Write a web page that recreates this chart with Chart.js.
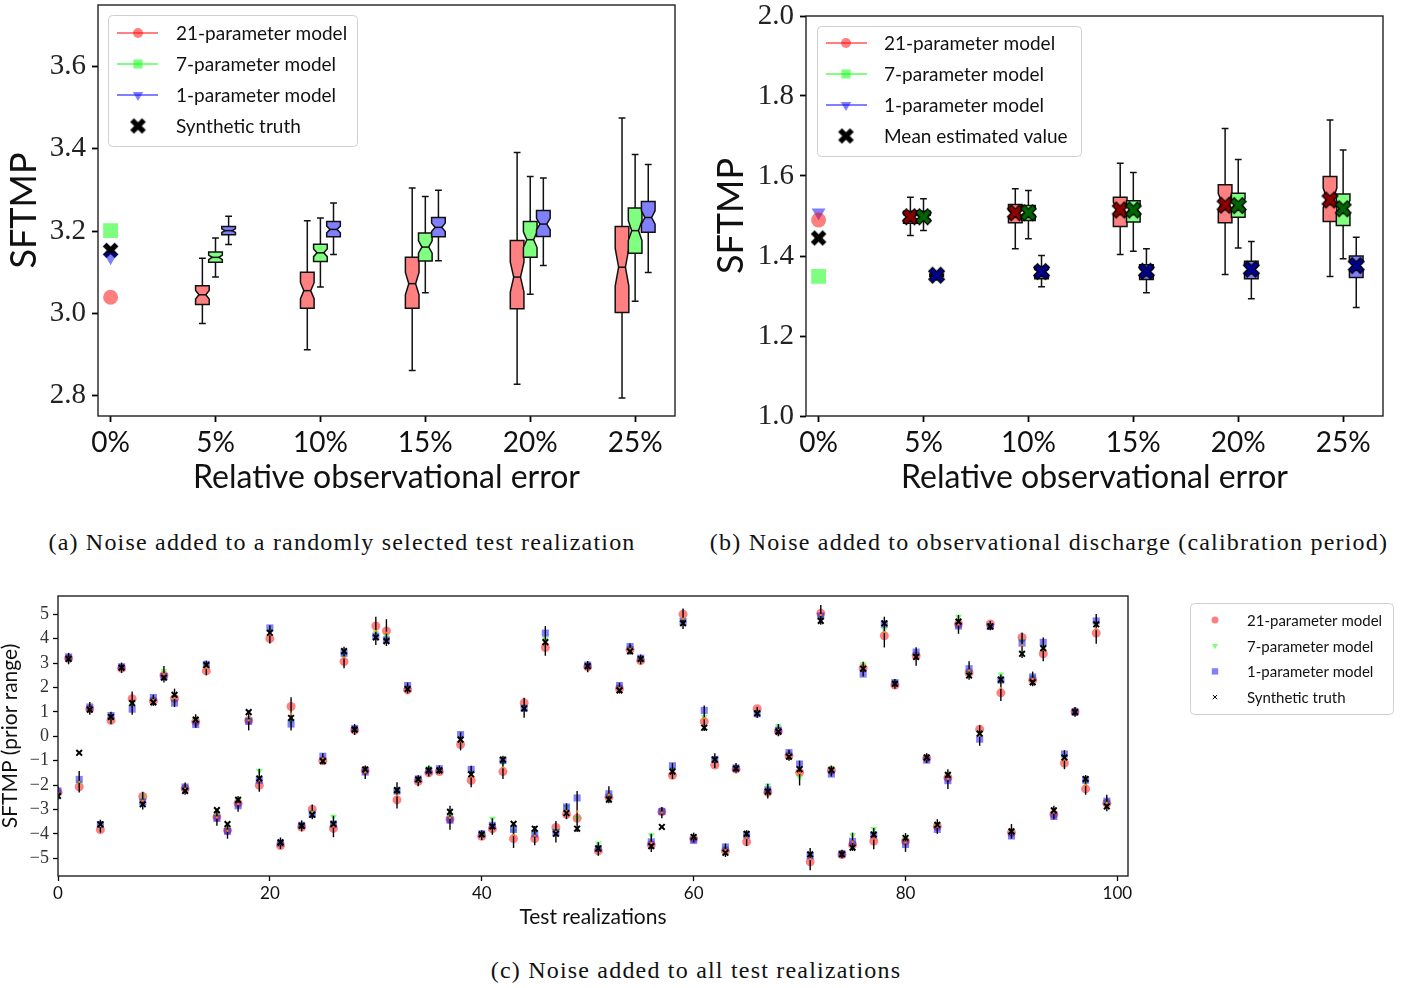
<!DOCTYPE html>
<html>
<head>
<meta charset="utf-8">
<script src="https://cdn.jsdelivr.net/npm/chart.js@4.4.1/dist/chart.umd.min.js"></script>
<style>
  body { margin: 0; background: #fff; width: 1408px; height: 988px; position: relative; overflow: hidden; }
  canvas { position: absolute; }
  .cap { position: absolute; font-family: 'Liberation Serif', 'DejaVu Serif', serif; font-size: 24px; letter-spacing: 1.2px; color: #111;
         white-space: nowrap; transform: translate(-50%, -50%); }
</style>
</head>
<body>
<canvas id="chartA" width="690" height="505" style="left:0;top:0"></canvas>
<canvas id="chartB" width="708" height="505" style="left:700px;top:0"></canvas>
<canvas id="chartC" width="1408" height="360" style="left:0;top:580px"></canvas>
<div class="cap" style="left:342px;top:542px">(a) Noise added to a randomly selected test realization</div>
<div class="cap" style="left:1049px;top:542px">(b) Noise added to observational discharge (calibration period)</div>
<div class="cap" style="left:696px;top:970px">(c) Noise added to all test realizations</div>

<script>
/* ---------- data ---------- */
const errorLevels = ['0%', '5%', '10%', '15%', '20%', '25%'];
const modelNames = ['21-parameter model', '7-parameter model', '1-parameter model'];

// (a) box stats for 5%..25%: [whisker low, q1, median, q3, whisker high]
const boxA21 = [[2.975, 3.021, 3.045, 3.067, 3.134], [2.911, 3.012, 3.055, 3.100, 3.225], [2.861, 3.012, 3.072, 3.136, 3.305], [2.827, 3.011, 3.088, 3.177, 3.391], [2.794, 3.002, 3.112, 3.211, 3.475]];
const boxA7 = [[3.088, 3.124, 3.136, 3.149, 3.183], [3.064, 3.126, 3.147, 3.168, 3.232], [3.050, 3.127, 3.161, 3.195, 3.284], [3.046, 3.136, 3.179, 3.223, 3.333], [3.029, 3.146, 3.201, 3.256, 3.386]];
const boxA1 = [[3.167, 3.191, 3.201, 3.211, 3.236], [3.143, 3.186, 3.204, 3.223, 3.268], [3.128, 3.186, 3.209, 3.233, 3.299], [3.116, 3.187, 3.217, 3.250, 3.329], [3.099, 3.197, 3.233, 3.272, 3.362]];
// (a) noise-free estimates (21, 7, 1) and the synthetic truth
const zeroA = [3.039, 3.201, 3.136];
const truthA = 3.153;
const yTicksA = [2.8, 3.0, 3.2, 3.4, 3.6];

// (b) box stats and mean estimates for 5%..25%
const boxB21 = [[1.451, 1.482, 1.497, 1.512, 1.547], [1.418, 1.483, 1.505, 1.529, 1.568], [1.404, 1.474, 1.518, 1.547, 1.632], [1.354, 1.483, 1.535, 1.578, 1.719], [1.349, 1.486, 1.545, 1.599, 1.740]];
const boxB7 = [[1.464, 1.487, 1.497, 1.512, 1.543], [1.443, 1.489, 1.510, 1.526, 1.564], [1.412, 1.485, 1.518, 1.538, 1.609], [1.420, 1.497, 1.530, 1.557, 1.641], [1.393, 1.476, 1.522, 1.555, 1.665]];
const boxB1 = [[1.346, 1.349, 1.352, 1.355, 1.358], [1.323, 1.343, 1.360, 1.374, 1.401], [1.308, 1.341, 1.360, 1.378, 1.418], [1.293, 1.343, 1.366, 1.387, 1.436], [1.271, 1.346, 1.377, 1.400, 1.447]];
const meanB21 = [1.498, 1.508, 1.515, 1.527, 1.540];
const meanB7 = [1.498, 1.508, 1.515, 1.526, 1.518];
const meanB1 = [1.352, 1.361, 1.362, 1.367, 1.376];
const zeroB = [1.490, 1.349, 1.509];
const meanZeroB = 1.445;
const yTicksB = [1.0, 1.2, 1.4, 1.6, 1.8, 2.0];

// (c) per test realization 0..99
const truthC = [-2.45, 3.17, -0.68, 1.09, -3.61, 0.79, 2.81, 1.36, -2.79, 1.39, 2.40, 1.70, -2.24, 0.68, 2.92, -3.03, -3.60, -2.61, 0.99, -1.73,
  4.24, -4.35, 0.75, -3.67, -3.22, -1.02, -3.60, 3.49, 0.27, -1.36, 4.05, 3.90, -2.21, 1.94, -1.77, -1.40, -1.40, -3.10, -0.14, -1.56,
  -4.02, -3.70, -0.96, -3.59, 1.14, -3.79, 3.86, -4.00, -3.15, -3.79, 2.87, -4.60, -2.60, 1.88, 3.48, 3.17, -4.51, -3.72, -1.45, 4.63,
  -4.13, 0.35, -0.96, -4.78, -1.32, -4.00, 0.94, -2.27, 0.19, -0.84, -1.35, -4.84, 4.73, -1.39, -4.84, -4.57, 2.77, -4.03, 4.63, 2.15,
  -4.17, 3.25, -0.87, -3.63, -1.58, 4.70, 2.49, 0.11, 4.50, 2.32, -3.90, 3.38, 2.21, 3.61, -3.04, -0.87, 0.99, -1.75, 4.59, -2.88];
const est21C = [-2.30, 3.20, -2.07, 1.12, -3.83, 0.65, 2.78, 1.54, -2.47, 1.45, 2.50, 1.55, -2.15, 0.60, 2.68, -3.30, -3.85, -2.75, 0.65, -2.01,
  4.00, -4.48, 1.22, -3.72, -2.99, -1.00, -3.78, 3.06, 0.25, -1.40, 4.52, 4.32, -2.61, 1.90, -1.85, -1.50, -1.45, -3.40, -0.34, -1.81,
  -4.10, -3.80, -1.45, -4.20, 1.37, -4.20, 3.64, -3.74, -3.20, -3.36, 2.85, -4.70, -2.50, 1.95, 3.55, 3.10, -4.45, -3.10, -1.60, 5.00,
  -4.20, 0.60, -1.18, -4.70, -1.35, -4.33, 1.13, -2.30, 0.20, -0.80, -1.48, -5.15, 5.04, -1.40, -4.85, -4.45, 2.80, -4.30, 4.12, 2.10,
  -4.30, 3.30, -0.90, -3.70, -1.70, 4.60, 2.60, 0.29, 4.60, 1.78, -3.95, 4.05, 2.30, 3.38, -3.20, -1.10, 1.00, -2.16, 4.23, -2.75];
const est7C = [-2.35, 3.22, -1.90, 1.15, -3.70, 0.75, 2.82, 1.30, -2.50, 1.50, 2.68, 1.60, -2.12, 0.65, 2.85, -3.20, -3.75, -2.65, 0.70, -1.43,
  4.30, -4.40, 0.60, -3.68, -3.10, -0.95, -3.30, 3.30, 0.30, -1.45, 4.25, 4.10, -2.30, 2.00, -1.80, -1.30, -1.38, -3.30, -0.10, -1.50,
  -4.05, -3.38, -1.10, -3.90, 1.20, -3.95, 4.00, -3.85, -2.90, -3.36, 2.90, -4.40, -2.45, 2.00, 3.60, 3.15, -4.06, -3.10, -1.35, 4.75,
  -4.15, 0.80, -1.00, -4.60, -1.30, -4.10, 0.95, -2.02, 0.42, -0.75, -1.68, -4.85, 4.85, -1.30, -4.80, -4.06, 2.95, -3.80, 4.39, 2.20,
  -4.20, 3.35, -0.85, -3.65, -1.60, 4.90, 2.65, 0.10, 4.55, 2.53, -3.90, 3.90, 2.43, 3.60, -3.15, -0.85, 1.05, -1.90, 4.60, -2.70];
const est1C = [-2.24, 3.25, -1.77, 1.20, -3.62, 0.85, 2.85, 1.11, -2.70, 1.59, 2.45, 1.36, -2.08, 0.48, 2.95, -3.37, -3.90, -2.85, 0.61, -1.80,
  4.44, -4.38, 0.50, -3.65, -3.20, -0.82, -3.60, 3.40, 0.32, -1.47, 4.10, 3.95, -2.25, 2.08, -1.75, -1.42, -1.33, -3.44, 0.07, -1.36,
  -4.00, -3.65, -1.00, -3.82, 1.15, -4.00, 4.23, -3.95, -2.90, -2.53, 2.92, -4.60, -2.36, 2.08, 3.68, 3.20, -4.33, -3.08, -1.21, 4.70,
  -4.27, 1.06, -0.95, -4.54, -1.30, -4.05, 0.92, -2.20, 0.25, -0.67, -1.14, -4.90, 4.93, -1.55, -4.82, -4.31, 2.55, -4.05, 4.60, 2.20,
  -4.44, 3.45, -0.98, -3.82, -1.82, 4.52, 2.77, -0.12, 4.50, 2.30, -4.09, 3.82, 2.43, 3.85, -3.29, -0.73, 1.00, -1.80, 4.73, -2.66];
// error bar ends
const barLoC = [-2.60, 2.95, -2.31, 0.88, -3.95, 0.50, 2.60, 0.88, -3.00, 1.25, 2.20, 1.20, -2.40, 0.35, 2.50, -3.67, -4.20, -3.10, 0.24, -2.28,
  3.80, -4.62, 0.24, -3.90, -3.40, -1.15, -4.14, 2.79, 0.05, -1.75, 3.74, 3.70, -2.96, 1.75, -2.05, -1.65, -1.55, -3.83, -0.58, -2.09,
  -4.25, -4.04, -1.75, -4.58, 0.76, -4.47, 3.30, -4.36, -3.40, -3.93, 2.62, -4.90, -2.75, 1.75, 3.35, 2.95, -4.75, -3.36, -1.75, 4.40,
  -4.35, 0.22, -1.30, -4.95, -1.50, -4.50, 0.75, -2.55, 0.00, -1.00, -2.02, -5.49, 4.57, -1.65, -5.00, -4.70, 2.45, -4.63, 3.64, 1.95,
  -4.74, 2.89, -1.10, -4.00, -2.16, 4.20, 2.32, -0.39, 4.35, 1.44, -4.20, 3.21, 2.05, 3.07, -3.40, -1.35, 0.80, -2.40, 3.79, -3.08];
const barHiC = [-2.05, 3.42, -1.43, 1.40, -3.42, 1.00, 3.02, 1.83, -2.28, 1.70, 2.88, 1.95, -1.90, 0.90, 3.10, -2.99, -3.55, -2.45, 1.06, -1.33,
  4.55, -4.15, 1.60, -3.45, -2.80, -0.70, -3.26, 3.67, 0.50, -1.20, 4.90, 4.80, -1.89, 2.20, -1.60, -1.20, -1.20, -2.85, 0.16, -1.21,
  -3.85, -3.36, -0.80, -3.52, 1.58, -3.68, 4.52, -3.48, -2.75, -2.24, 3.08, -4.35, -2.05, 2.20, 3.80, 3.35, -4.00, -2.90, -1.10, 5.24,
  -3.95, 1.26, -0.70, -4.40, -1.10, -3.85, 1.20, -1.95, 0.50, -0.55, -1.00, -4.58, 5.38, -1.20, -4.65, -3.95, 3.05, -3.76, 4.90, 2.35,
  -3.97, 3.65, -0.70, -3.40, -1.35, 4.97, 3.07, 0.45, 4.72, 2.53, -3.60, 4.25, 2.65, 4.05, -2.85, -0.57, 1.20, -1.59, 5.01, -2.40];
const xTicksC = [0, 20, 40, 60, 80, 100];
const yTicksC = [-5, -4, -3, -2, -1, 0, 1, 2, 3, 4, 5];

/* ---------- styling helpers ---------- */
const SANS = "Lato, 'DejaVu Sans', sans-serif";
const SERIF = "'Liberation Serif', 'DejaVu Serif', serif";
const RED = 'rgba(255,0,0,0.5)', GREEN = 'rgba(0,255,0,0.5)', BLUE = 'rgba(0,0,255,0.5)';
const BOX_FILL = ['#ff8080', '#80ff80', '#8080ff'];
const SHIFT = [-0.125, 0, 0.125];   // side-by-side placement of the three models
const BOX_W = 0.13;
const NOTCH = 0.22;                 // notch half-height as a share of the IQR

// filled "X" marker drawn once into a small canvas, used as a pointStyle
function filledX(size, fill, edge, edgeW) {
  const pad = Math.ceil(edgeW) + 2;
  const c = document.createElement('canvas');
  c.width = c.height = size + pad * 2;
  const g = c.getContext('2d');
  const h = size / 2, L = h * 1.12, w = h * 0.36;
  g.translate(c.width / 2, c.height / 2);
  g.rotate(Math.PI / 4);
  g.beginPath();
  const pts = [[w, L], [w, w], [L, w], [L, -w], [w, -w], [w, -L], [-w, -L], [-w, -w], [-L, -w], [-L, w], [-w, w], [-w, L]];
  pts.forEach((p, i) => i ? g.lineTo(p[0], p[1]) : g.moveTo(p[0], p[1]));
  g.closePath();
  g.fillStyle = fill;
  g.fill();
  if (edgeW > 0) { g.lineWidth = edgeW; g.strokeStyle = edge; g.stroke(); }
  return c;
}

// keep tick-label overhang from shrinking the plot area
function noOverhang(s) {
  s.paddingTop = 0; s.paddingBottom = 0; s.paddingLeft = 0; s.paddingRight = 0;
}

function frameAndLegend(legend) {
  return {
    id: 'frameAndLegend',
    afterDatasetsDraw(chart) {
      const { ctx, chartArea: a } = chart;
      ctx.save();
      ctx.strokeStyle = '#222';
      ctx.lineWidth = 1.4;
      ctx.strokeRect(a.left, a.top, a.right - a.left, a.bottom - a.top);
      ctx.restore();
      drawLegend(chart, legend);
    }
  };
}

function drawLegend(chart, lg) {
  const ctx = chart.ctx;
  const x0 = lg.x, y0 = lg.y;
  ctx.save();
  ctx.beginPath();
  ctx.roundRect(x0 + 0.5, y0 + 0.5, lg.w, lg.h, 4);
  ctx.fillStyle = 'rgba(255,255,255,0.85)';
  ctx.fill();
  ctx.strokeStyle = '#d0d0d0';
  ctx.lineWidth = 1;
  ctx.stroke();
  ctx.font = lg.font;
  ctx.textBaseline = 'middle';
  lg.items.forEach((it, i) => {
    const cy = y0 + lg.first + i * lg.rowH;
    if (it.line) {
      ctx.strokeStyle = it.line;
      ctx.lineWidth = 2;
      ctx.beginPath();
      ctx.moveTo(x0 + lg.lineFrom, cy);
      ctx.lineTo(x0 + lg.lineTo, cy);
      ctx.stroke();
    }
    ctx.fillStyle = it.color;
    ctx.strokeStyle = it.color;
    Chart.helpers.drawPoint(ctx, { pointStyle: it.style, radius: it.radius, rotation: it.rotation || 0, borderWidth: it.borderWidth || 0 },
      x0 + lg.marker, cy);
    ctx.fillStyle = '#111';
    ctx.fillText(it.label, x0 + lg.text, cy + 1);
  });
  ctx.restore();
}

// notched boxes with whiskers, one set per model, placed through the chart scales
function notchedBoxes(series) {
  return {
    id: 'notchedBoxes',
    beforeDatasetsDraw(chart) {
      const { ctx, scales: { x, y } } = chart;
      ctx.save();
      ctx.lineWidth = 1.5;
      ctx.strokeStyle = '#111';
      series.forEach((stats, s) => {
        stats.forEach((st, k) => {
          const [lo, q1, med, q3, hi] = st;
          const pos = k + 1 + SHIFT[s];
          const cx = x.getPixelForValue(pos);
          const hw = (x.getPixelForValue(pos + BOX_W / 2) - x.getPixelForValue(pos - BOX_W / 2)) / 2;
          const n = NOTCH * (q3 - q1);
          const Y = v => y.getPixelForValue(v);
          // whiskers and caps
          ctx.beginPath();
          ctx.moveTo(cx, Y(q3)); ctx.lineTo(cx, Y(hi));
          ctx.moveTo(cx, Y(q1)); ctx.lineTo(cx, Y(lo));
          ctx.moveTo(cx - hw / 2, Y(hi)); ctx.lineTo(cx + hw / 2, Y(hi));
          ctx.moveTo(cx - hw / 2, Y(lo)); ctx.lineTo(cx + hw / 2, Y(lo));
          ctx.stroke();
          // notched box
          ctx.beginPath();
          ctx.moveTo(cx - hw, Y(q1));
          ctx.lineTo(cx + hw, Y(q1));
          ctx.lineTo(cx + hw, Y(med - n));
          ctx.lineTo(cx + hw / 2, Y(med));
          ctx.lineTo(cx + hw, Y(med + n));
          ctx.lineTo(cx + hw, Y(q3));
          ctx.lineTo(cx - hw, Y(q3));
          ctx.lineTo(cx - hw, Y(med + n));
          ctx.lineTo(cx - hw / 2, Y(med));
          ctx.lineTo(cx - hw, Y(med - n));
          ctx.closePath();
          ctx.fillStyle = BOX_FILL[s];
          ctx.fill();
          ctx.stroke();
          ctx.beginPath();
          ctx.moveTo(cx - hw / 2, Y(med)); ctx.lineTo(cx + hw / 2, Y(med));
          ctx.stroke();
        });
      });
      ctx.restore();
    }
  };
}

function levelAxis() {
  return {
    x: {
      type: 'linear', min: -0.12, max: 5.38,
      afterBuildTicks: s => { s.ticks = errorLevels.map((_, i) => ({ value: i })); },
      afterFit: s => { s.height = 89; noOverhang(s); },
      grid: { drawOnChartArea: false, drawTicks: true, tickLength: 6, tickWidth: 1.8, tickColor: '#000' },
      border: { display: false },
      ticks: { callback: v => errorLevels[Math.round(v)], color: '#111', padding: 4, autoSkip: false, maxRotation: 0,
               font: { family: SANS, size: 28 } },
      title: { display: true, text: 'Relative observational error', color: '#111', font: { family: SANS, size: 32 }, padding: { bottom: 8 } }
    }
  };
}

function yAxis(min, max, ticks, width, titlePad) {
  return {
    type: 'linear', min, max,
    afterBuildTicks: s => { s.ticks = ticks.map(v => ({ value: v })); },
    afterFit: s => { s.width = width; noOverhang(s); },
    grid: { drawOnChartArea: false, drawTicks: true, tickLength: 6, tickWidth: 1.8, tickColor: '#000' },
    border: { display: false },
    ticks: { callback: v => v.toFixed(1), color: '#222', padding: 6, font: { family: SERIF, size: 29 } },
    title: { display: true, text: 'SFTMP', color: '#111', font: { family: SANS, size: 36 }, padding: { top: titlePad } }
  };
}

const common = {
  responsive: false, animation: false, devicePixelRatio: 1,
  plugins: { legend: { display: false }, tooltip: { enabled: false } }
};

/* ---------- (a) ---------- */
const bigX = filledX(15, '#000', '#000', 0);
new Chart(document.getElementById('chartA'), {
  type: 'scatter',
  data: {
    datasets: [
      { data: [{ x: 0, y: zeroA[2] }], pointStyle: 'triangle', rotation: 180, pointRadius: 8, backgroundColor: BLUE, borderWidth: 0 },
      { data: [{ x: 0, y: zeroA[1] }], pointStyle: 'rect', pointRadius: 10.5, backgroundColor: GREEN, borderWidth: 0 },
      { data: [{ x: 0, y: zeroA[0] }], pointStyle: 'circle', pointRadius: 7.5, backgroundColor: RED, borderWidth: 0 },
      { data: [{ x: 0, y: truthA }], pointStyle: bigX, backgroundColor: '#000' }
    ]
  },
  options: Object.assign({}, common, {
    layout: { autoPadding: false, padding: { top: 5, right: 15, left: 0, bottom: 0 } },
    scales: Object.assign(levelAxis(), { y: yAxis(2.75, 3.75, yTicksA, 98, 3) })
  }),
  plugins: [notchedBoxes([boxA21, boxA7, boxA1]), frameAndLegend({
    x: 108, y: 15, w: 249, h: 131, first: 18, rowH: 31, lineFrom: 9, lineTo: 50, marker: 30, text: 68,
    font: '19px ' + SANS,
    items: [
      { label: modelNames[0], line: '#ff8080', color: RED, style: 'circle', radius: 5 },
      { label: modelNames[1], line: '#80ff80', color: GREEN, style: 'rect', radius: 6.5 },
      { label: modelNames[2], line: '#8080ff', color: BLUE, style: 'triangle', rotation: 180, radius: 6 },
      { label: 'Synthetic truth', line: null, color: '#000', style: bigX, radius: 8 }
    ]
  })]
});

/* ---------- (b) ---------- */
const xDark = [filledX(15, '#8b0000', '#000', 1.2), filledX(15, '#006400', '#000', 1.2), filledX(15, '#00008b', '#000', 1.2)];
const meanPts = (arr, s) => arr.map((v, k) => ({ x: k + 1 + SHIFT[s], y: v }));
new Chart(document.getElementById('chartB'), {
  type: 'scatter',
  data: {
    datasets: [
      { data: meanPts(meanB1, 2), pointStyle: xDark[2] },
      { data: meanPts(meanB7, 1), pointStyle: xDark[1] },
      { data: meanPts(meanB21, 0), pointStyle: xDark[0] },
      { data: [{ x: 0, y: zeroB[0] }], pointStyle: 'circle', pointRadius: 7.5, backgroundColor: RED, borderWidth: 0 },
      { data: [{ x: 0, y: zeroB[2] }], pointStyle: 'triangle', rotation: 180, pointRadius: 8, backgroundColor: BLUE, borderWidth: 0 },
      { data: [{ x: 0, y: zeroB[1] }], pointStyle: 'rect', pointRadius: 10.5, backgroundColor: GREEN, borderWidth: 0 },
      { data: [{ x: 0, y: meanZeroB }], pointStyle: bigX }
    ]
  },
  options: Object.assign({}, common, {
    layout: { autoPadding: false, padding: { top: 16, right: 25, left: 0, bottom: 0 } },
    scales: Object.assign(levelAxis(), { y: yAxis(1.0, 2.0, yTicksB, 106, 10) })
  }),
  plugins: [notchedBoxes([boxB21, boxB7, boxB1]), frameAndLegend({
    x: 117, y: 26, w: 264, h: 130, first: 17, rowH: 31, lineFrom: 9, lineTo: 50, marker: 29, text: 67,
    font: '19px ' + SANS,
    items: [
      { label: modelNames[0], line: '#ff8080', color: RED, style: 'circle', radius: 5 },
      { label: modelNames[1], line: '#80ff80', color: GREEN, style: 'rect', radius: 6.5 },
      { label: modelNames[2], line: '#8080ff', color: BLUE, style: 'triangle', rotation: 180, radius: 6 },
      { label: 'Mean estimated value', line: null, color: '#000', style: bigX, radius: 8 }
    ]
  })]
});

/* ---------- (c) ---------- */
const asPts = arr => arr.map((v, i) => ({ x: i, y: v }));
const errorBars = {
  id: 'errorBars',
  afterDatasetDraw(chart, args) {
    if (args.index !== 1) return;          // right after the 1-parameter squares
    const { ctx, chartArea: a, scales: { x, y } } = chart;
    ctx.save();
    ctx.beginPath();
    ctx.rect(a.left, a.top, a.right - a.left, a.bottom - a.top);
    ctx.clip();
    ctx.strokeStyle = '#000';
    ctx.lineWidth = 1.4;
    barLoC.forEach((lo, i) => {
      const px = x.getPixelForValue(i);
      ctx.beginPath();
      ctx.moveTo(px, y.getPixelForValue(lo));
      ctx.lineTo(px, y.getPixelForValue(barHiC[i]));
      ctx.stroke();
    });
    ctx.fillStyle = '#ff7f0e';
    barLoC.forEach((lo, i) => {
      ctx.beginPath();
      ctx.arc(x.getPixelForValue(i), y.getPixelForValue((lo + barHiC[i]) / 2), 1.2, 0, Math.PI * 2);
      ctx.fill();
    });
    ctx.restore();
  }
};

new Chart(document.getElementById('chartC'), {
  type: 'scatter',
  data: {
    datasets: [
      { data: asPts(truthC), pointStyle: 'crossRot', pointRadius: 4, borderColor: '#000', borderWidth: 2, clip: 0 },
      { data: asPts(est1C), pointStyle: 'rect', pointRadius: 5, backgroundColor: BLUE, borderWidth: 0, clip: 0 },
      { data: asPts(est7C), pointStyle: 'triangle', rotation: 180, pointRadius: 4, backgroundColor: GREEN, borderWidth: 0, clip: 0 },
      { data: asPts(est21C), pointStyle: 'circle', pointRadius: 4.5, backgroundColor: RED, borderWidth: 0, clip: 0 }
    ]
  },
  options: Object.assign({}, common, {
    layout: { autoPadding: false, padding: { top: 16, right: 280, left: 0, bottom: 0 } },
    scales: {
      x: {
        type: 'linear', min: 0, max: 101,
        afterBuildTicks: s => { s.ticks = xTicksC.map(v => ({ value: v })); },
        afterFit: s => { s.height = 64; noOverhang(s); },
        grid: { drawOnChartArea: false, drawTicks: true, tickLength: 5, tickWidth: 1.3, tickColor: '#000' },
        border: { display: false },
        ticks: { color: '#111', padding: 2, maxRotation: 0, font: { family: SANS, size: 17 } },
        title: { display: true, text: 'Test realizations', color: '#111', font: { family: SANS, size: 21 }, padding: { bottom: 10 } }
      },
      y: {
        type: 'linear', min: -5.73, max: 5.75,
        afterBuildTicks: s => { s.ticks = yTicksC.map(v => ({ value: v })); },
        afterFit: s => { s.width = 58; noOverhang(s); },
        grid: { drawOnChartArea: false, drawTicks: true, tickLength: 5, tickWidth: 1.3, tickColor: '#000' },
        border: { display: false },
        ticks: { callback: v => (v < 0 ? '\u2212' + (-v) : String(v)), color: '#333', padding: 4, font: { family: SERIF, size: 18 } },
        title: { display: true, text: 'SFTMP (prior range)', color: '#111', font: { family: SANS, size: 21, lineHeight: 1 }, padding: { top: 0 } }
      }
    }
  }),
  plugins: [errorBars, frameAndLegend({
    x: 1190, y: 23, w: 203, h: 111, first: 17, rowH: 25.7, marker: 25, text: 57,
    font: '15px ' + SANS,
    items: [
      { label: modelNames[0], color: RED, style: 'circle', radius: 3.5 },
      { label: modelNames[1], color: GREEN, style: 'triangle', rotation: 180, radius: 3.5 },
      { label: modelNames[2], color: BLUE, style: 'rect', radius: 4.5 },
      { label: 'Synthetic truth', color: '#000', style: 'crossRot', radius: 3, borderWidth: 2 }
    ]
  })]
});
</script>
</body>
</html>
